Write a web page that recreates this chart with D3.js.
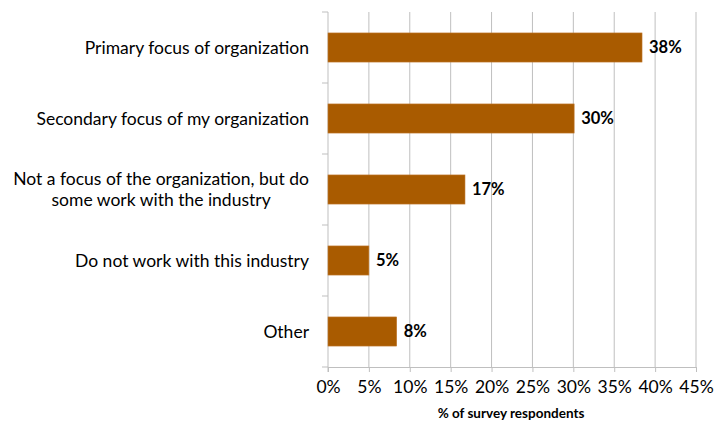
<!DOCTYPE html>
<html>
<head>
<meta charset="utf-8">
<script src="https://cdn.jsdelivr.net/npm/d3@7"></script>
<style>
  html, body { margin: 0; padding: 0; background: #fff; }
  svg { display: block; font-family: Lato, "Open Sans", sans-serif; }
</style>
</head>
<body>
<svg id="chart" width="728" height="422"></svg>
<script>
// Survey responses: how the industry relates to the respondent's organization
const categories = [
  "Primary focus of organization",
  "Secondary focus of my organization",
  "Not a focus of the organization, but do|some work with the industry",
  "Do not work with this industry",
  "Other"
];
const shares = [0.384, 0.301, 0.1675, 0.05, 0.084];
const xTicks = [0, 0.05, 0.10, 0.15, 0.20, 0.25, 0.30, 0.35, 0.40, 0.45];
const xTitle = "% of survey respondents";

const svg = d3.select("#chart");
const plotLeft = 328, plotRight = 696, plotTop = 12, plotBottom = 367;
const labelRight = 309;
const labelSize = 17.5;

const x = d3.scaleLinear().domain([0, 0.45]).range([plotLeft, plotRight]);
const band = d3.scaleBand().domain(categories).range([plotTop, plotBottom]);
const y = d3.scaleBand().domain(categories).range([plotTop, plotBottom])
  .paddingInner(0.59).paddingOuter(0.295);

const gridColor = "#bfbfbf";
const pct = d3.format(".0%");

// vertical gridlines
svg.append("g").selectAll("line").data(xTicks.slice(1)).join("line")
  .attr("x1", d => x(d)).attr("x2", d => x(d))
  .attr("y1", plotTop).attr("y2", plotBottom)
  .attr("stroke", gridColor).attr("stroke-width", 1);

// bottom axis
const xAxis = svg.append("g").attr("transform", `translate(0,${plotBottom})`)
  .call(d3.axisBottom(x).tickValues(xTicks).tickFormat(pct).tickSize(5).tickPadding(9).tickSizeOuter(0));
xAxis.select(".domain").attr("stroke", gridColor);
xAxis.selectAll(".tick line").attr("stroke", gridColor);
xAxis.selectAll(".tick text").attr("font-size", labelSize).attr("fill", "#000")
  .attr("font-family", "Lato, 'Open Sans', sans-serif");

// left axis with separators between categories
const yAxisG = svg.append("g").attr("transform", `translate(${plotLeft},0)`);
yAxisG.append("line").attr("x1", 0).attr("x2", 0).attr("y1", plotTop).attr("y2", plotBottom + 5)
  .attr("stroke", gridColor);
const bounds = categories.map(c => band(c)).concat([plotBottom]);
yAxisG.selectAll("line.sep").data(bounds).join("line").attr("class", "sep")
  .attr("x1", -6).attr("x2", 0)
  .attr("y1", d => d).attr("y2", d => d)
  .attr("stroke", gridColor);

// category labels (multi-line labels are centred on their widest line)
const labels = svg.append("g").selectAll("text").data(categories).join("text")
  .attr("font-size", labelSize)
  .attr("fill", "#000");
labels.each(function(d) {
  const lines = d.split("|");
  const cy = band(d) + band.bandwidth() / 2;
  const lh = 21;
  const t = d3.select(this);
  const spans = lines.map((ln, i) => t.append("tspan")
    .attr("y", cy + (i - (lines.length - 1) / 2) * lh)
    .attr("dy", "0.35em")
    .text(ln));
  if (lines.length === 1) {
    t.attr("text-anchor", "end");
    spans[0].attr("x", labelRight);
  } else {
    const w = d3.max(spans, s => s.node().getComputedTextLength());
    t.attr("text-anchor", "middle");
    spans.forEach(s => s.attr("x", labelRight - w / 2));
  }
});

// bars
svg.append("g").selectAll("rect").data(categories).join("rect")
  .attr("x", x(0))
  .attr("y", d => y(d))
  .attr("width", (d, i) => x(shares[i]) - x(0))
  .attr("height", y.bandwidth())
  .attr("fill", "#a95b00")
  .attr("stroke", "#c07a30")
  .attr("stroke-width", 0.6);

// value labels
svg.append("g").selectAll("text").data(categories).join("text")
  .attr("x", (d, i) => x(shares[i]) + 7)
  .attr("y", d => y(d) + y.bandwidth() / 2)
  .attr("dy", "0.35em")
  .attr("font-size", 16.5)
  .attr("font-weight", "bold")
  .attr("fill", "#000")
  .text((d, i) => pct(shares[i]));

// axis title
svg.append("text")
  .attr("x", (plotLeft + plotRight) / 2 - 1)
  .attr("y", 413)
  .attr("dy", "0.35em")
  .attr("text-anchor", "middle")
  .attr("font-size", 13.5)
  .attr("font-weight", "bold")
  .attr("fill", "#000")
  .text(xTitle);
</script>
</body>
</html>
